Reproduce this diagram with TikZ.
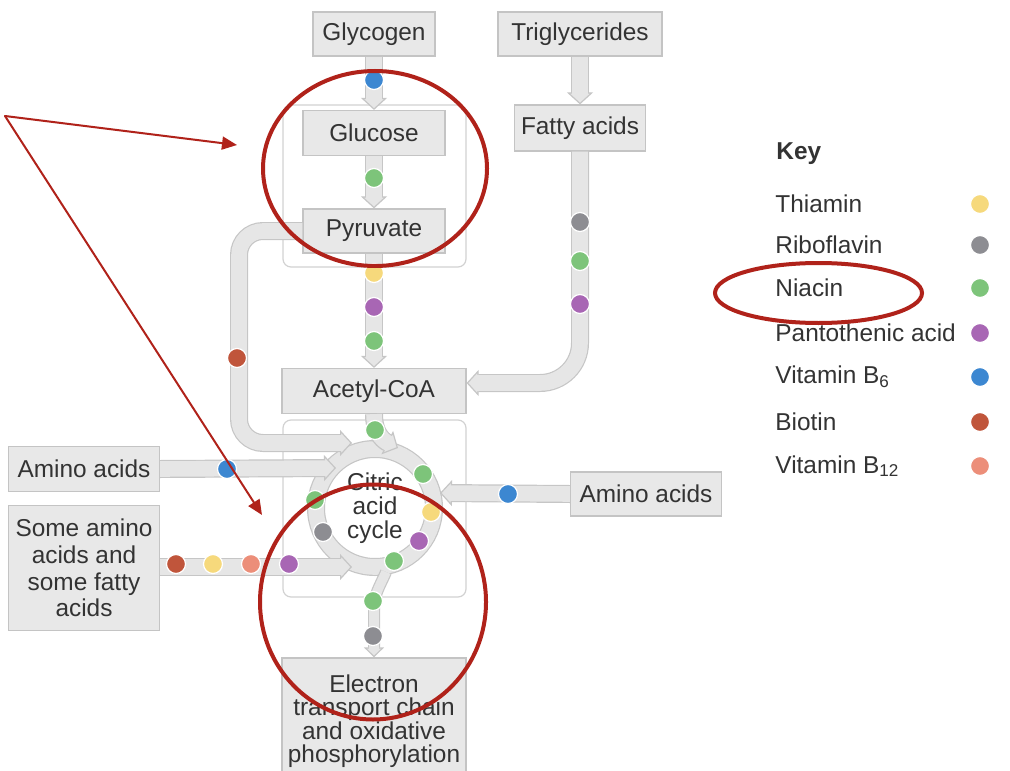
\documentclass[tikz,border=0pt]{standalone}
\usepackage{fontspec}
\setmainfont{Liberation Sans}
\usetikzlibrary{arrows.meta}
\definecolor{boxfill}{HTML}{E8E8E8}
\definecolor{boxedge}{HTML}{C4C4C4}
\definecolor{pipefill}{HTML}{E6E6E6}
\definecolor{pipeedge}{HTML}{C6C6C6}
\definecolor{framec}{HTML}{D2D2D2}
\definecolor{txt}{HTML}{333333}
\definecolor{annotred}{HTML}{B0221A}
\definecolor{vThi}{HTML}{F6D97C}
\definecolor{vRib}{HTML}{8D8D92}
\definecolor{vNia}{HTML}{7DC47A}
\definecolor{vPan}{HTML}{A866B4}
\definecolor{vBsix}{HTML}{3C87D1}
\definecolor{vBio}{HTML}{C0553B}
\definecolor{vBtw}{HTML}{EC8E79}
\tikzstyle{box}=[draw=boxedge, fill=boxfill, line width=0.6pt, inner sep=0pt,
    minimum height=22pt, text=txt, align=center]
\tikzstyle{frame}=[draw=framec, fill=white, line width=0.6pt, rounded corners=4pt]
\tikzstyle{pipe}=[draw=pipeedge, line width=9pt,
    -{Triangle[length=6pt, width=13pt, line width=0.6pt, fill=pipefill]},
    postaction={draw=pipefill, line width=7.8pt, -, shorten >=5pt}]
\tikzstyle{thinpipe}=[draw=pipeedge, line width=6pt,
    -{Triangle[length=5pt, width=10pt, line width=0.6pt, fill=pipefill]},
    postaction={draw=pipefill, line width=4.8pt, -, shorten >=4pt}]
\tikzstyle{ringpipe}=[draw=pipeedge, line width=9pt,
    postaction={draw=pipefill, line width=7.8pt}]
\tikzstyle{keytext}=[anchor=west, inner sep=0pt, text=txt]
\tikzstyle{annot}=[draw=annotred, line cap=round]
\tikzset{dot/.style={circle, fill=#1, draw=white, line width=0.6pt,
    minimum size=9.5pt, inner sep=0pt}}

\begin{document}
\begin{tikzpicture}[x=0.5pt, y=-0.5pt, font=\fontsize{12.2}{14}\selectfont]
\useasboundingbox (0,0) rectangle (1010,770);

\draw[frame] (283,105) rectangle (466,267);
\draw[frame] (283,420) rectangle (466,597);

\node[box, minimum width=61pt] (glycogen) at (374,34) {Glycogen};
\node[box, minimum width=82pt] (trigly) at (580,34) {Triglycerides};
\node[box, minimum width=71pt, minimum height=22.5pt] (glucose) at (374,133) {Glucose};
\node[box, minimum width=65.5pt, minimum height=23pt] (fatty) at (580,128) {Fatty acids};
\node[box, minimum width=71pt] (pyruvate) at (374,231) {Pyruvate};
\node[box, minimum width=92pt, minimum height=22.5pt] (acetyl) at (374,391) {Acetyl-CoA};
\node[box, minimum width=75.5pt, minimum height=22.5pt] (aminoL) at (84,469) {Amino acids};
\node[box, minimum width=75.5pt, minimum height=62.5pt, font=\fontsize{12.2}{13.3}\selectfont]
  (someAA) at (84,568) {Some amino\\acids and\\some fatty\\acids};
\node[box, minimum width=75.5pt] (aminoR) at (646,494) {Amino acids};
\node[box, minimum width=92pt, minimum height=63pt, font=\fontsize{12.2}{11.7}\selectfont]
  (etc) at (374,721) {Electron\\transport chain\\and oxidative\\phosphorylation};

\node[circle, fill=white, minimum size=50pt, inner sep=0pt, align=center, text=txt,
  font=\fontsize{12.2}{12}\selectfont] (tca) at (375,508) {Citric\\acid\\cycle};
\draw[ringpipe] (tca) circle[radius=29.5pt];

\coordinate (ringA) at (352,443);
\coordinate (ringB) at (398,448);
\coordinate (ringC) at (336,468);
\coordinate (ringD) at (440,493);
\coordinate (ringE) at (352,567);
\coordinate (ringF) at (386,572);

\draw[pipe] (glycogen) -- (glucose);
\draw[pipe] (glucose) -- (pyruvate);
\draw[pipe] (pyruvate) -- (acetyl);
\draw[pipe] (trigly) -- (fatty);
\draw[pipe, rounded corners=20pt] (fatty.south) |- ([yshift=4pt]acetyl.east);
\draw[pipe, rounded corners=12pt] (pyruvate.west) -| (239,443) -- (ringA);
\draw[pipe] (acetyl.south) .. controls (374,436) and (386,442) .. (ringB);
\draw[pipe] (aminoL.east) -- (ringC);
\draw[pipe] (aminoR.west) -- (ringD);
\draw[pipe] (someAA.east |- ringE) -- (ringE);
\draw[thinpipe] (ringF) .. controls (379,588) and (374,594) .. (374,610) -- (etc.north);

\foreach \c/\x/\y [count=\i] in {vBsix/374/80, vNia/374/178, vThi/374/273, vPan/374/307,
  vNia/374/341, vRib/580/222, vNia/580/261, vPan/580/304, vBio/237/358, vNia/375/430,
  vNia/423/474, vThi/431/512, vPan/419/541, vNia/394/561, vRib/323/532, vNia/315/500,
  vBsix/227/469, vBsix/508/494, vBio/176/564, vThi/213/564, vBtw/251/564, vPan/289/564,
  vNia/373/601, vRib/373/636}
  \node[dot=\c] (d\i) at (\x,\y) {};

\node[keytext, font=\fontsize{12.2}{14}\bfseries] (key) at (776,154) {Key};
\foreach \t/\c/\y [count=\i] in {Thiamin/vThi/204, Riboflavin/vRib/245, Niacin/vNia/288,
  Pantothenic acid/vPan/333, Vitamin B\textsubscript{6}/vBsix/377, Biotin/vBio/422,
  Vitamin B\textsubscript{12}/vBtw/466}
{
  \node[keytext] (k\i) at (775,\y) {\t};
  \node[dot=\c] (kd\i) at (980,\y) {};
}

\draw[annot, line width=2pt] (375,168.5) ellipse [x radius=56pt, y radius=48.75pt];
\draw[annot, line width=2pt] (818.5,293) ellipse [x radius=51.75pt, y radius=15pt];
\draw[annot, line width=2pt] (373,602) ellipse [x radius=56.5pt, y radius=58.75pt];

\coordinate (src) at (5,116);
\coordinate (tipA) at (237,145);
\coordinate (tipB) at (262,515);
\draw[annot, line width=1pt, -{Triangle[length=7.5pt, width=6.5pt]}] (src) -- (tipA);
\draw[annot, line width=1pt, -{Triangle[length=7.5pt, width=6.5pt]}] (src) -- (tipB);

\end{tikzpicture}
\end{document}
